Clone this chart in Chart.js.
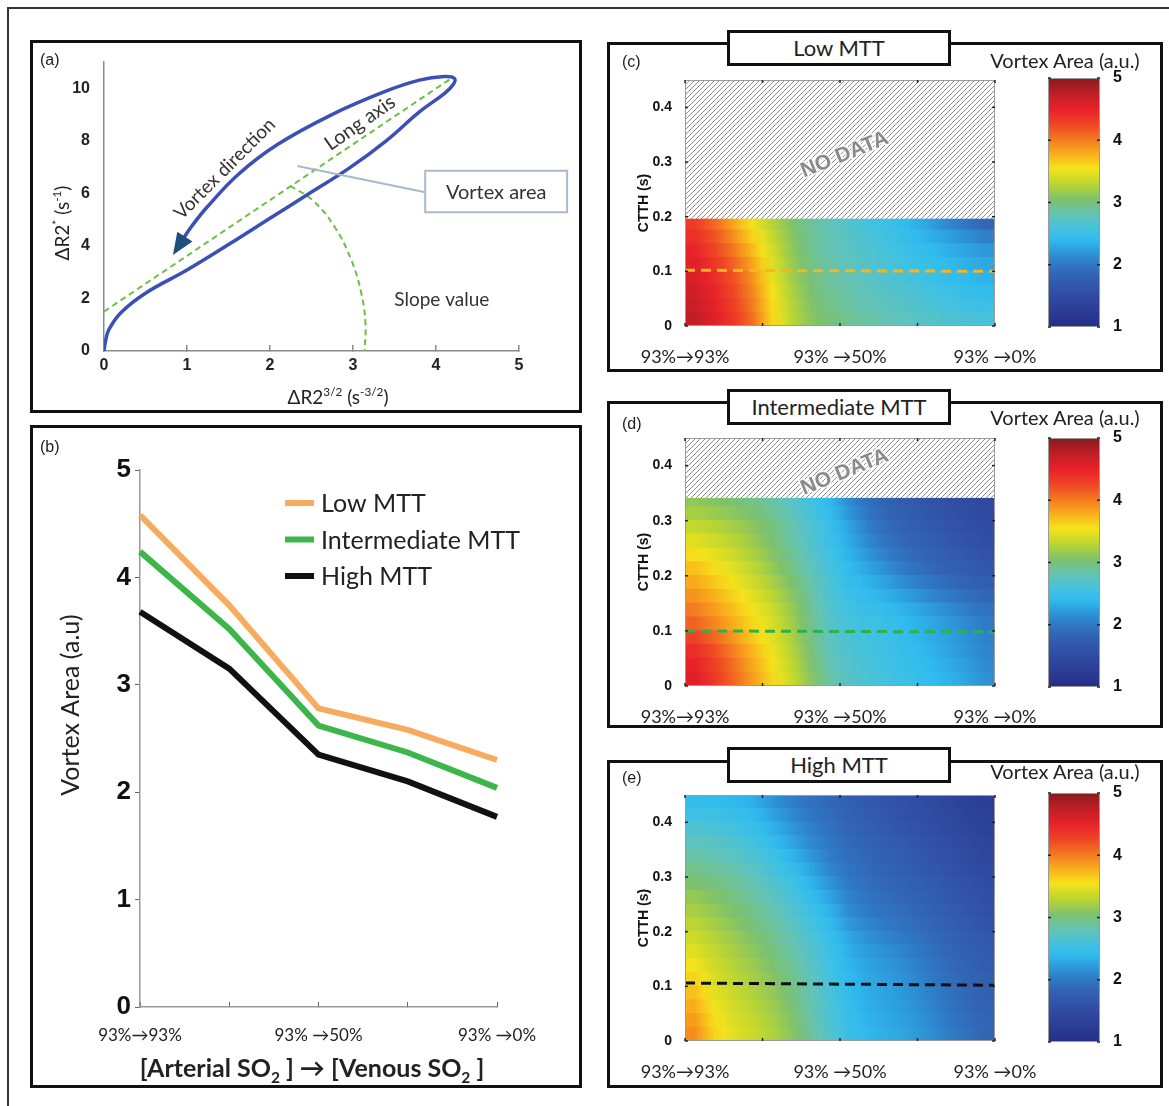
<!DOCTYPE html>
<html>
<head>
<meta charset="utf-8">
<script src="https://cdn.jsdelivr.net/npm/chart.js@4.4.1/dist/chart.umd.min.js"></script>
<style>
body{margin:0;background:#fff;width:1169px;height:1106px;position:relative;overflow:hidden;font-family:Lato,"Open Sans",sans-serif;color:#222}
.box{position:absolute;border:3px solid #111;box-sizing:border-box;background:#fff}
.ttl{position:absolute;left:727px;width:224px;height:36px;border:3px solid #111;box-sizing:border-box;background:#fff;font-size:22px;text-align:center;line-height:29px}
.lab{position:absolute;font:16px "Liberation Sans",Arial,sans-serif;color:#222}
.cbt{position:absolute;left:1065px;font-size:20px;white-space:nowrap;transform:translateX(-50%);color:#222}
canvas{position:absolute}
</style>
</head>
<body>
<div style="position:absolute;left:7px;top:7px;width:1300px;height:1300px;border-left:2px solid #333;border-top:2px solid #333"></div>

<div class="box" style="left:30px;top:40px;width:552px;height:373px"></div>
<canvas id="ca" width="546" height="367" style="left:33px;top:43px"></canvas>
<div class="lab" style="left:40px;top:51px">(a)</div>

<div class="box" style="left:30px;top:425px;width:552px;height:663px"></div>
<canvas id="cb" width="546" height="657" style="left:33px;top:428px"></canvas>
<div class="lab" style="left:40px;top:438px">(b)</div>

<div class="box" style="left:607px;top:42px;width:556px;height:330px"></div>
<canvas id="hc" width="450" height="324" style="left:610px;top:45px"></canvas>
<canvas id="kc" width="150" height="324" style="left:1010px;top:45px"></canvas>
<div class="ttl" style="top:30px">Low MTT</div>
<div class="lab" style="left:622px;top:53px">(c)</div>
<div class="cbt" style="top:48px">Vortex Area (a.u.)</div>

<div class="box" style="left:607px;top:401px;width:556px;height:327px"></div>
<canvas id="hd" width="450" height="321" style="left:610px;top:404px"></canvas>
<canvas id="kd" width="150" height="321" style="left:1010px;top:404px"></canvas>
<div class="ttl" style="top:389px">Intermediate MTT</div>
<div class="lab" style="left:622px;top:415px">(d)</div>
<div class="cbt" style="top:405px">Vortex Area (a.u.)</div>

<div class="box" style="left:607px;top:760px;width:556px;height:328px"></div>
<canvas id="he" width="450" height="322" style="left:610px;top:763px"></canvas>
<canvas id="ke" width="150" height="322" style="left:1010px;top:763px"></canvas>
<div class="ttl" style="top:747px">High MTT</div>
<div class="lab" style="left:622px;top:769px">(e)</div>
<div class="cbt" style="top:759px">Vortex Area (a.u.)</div>

<script>
// ---- panel (b): vortex area vs SO2 ----
const soLabels = ['93%→93%', '', '93% →50%', '', '93% →0%'];
const lowMTT = [4.58, 3.74, 2.78, 2.58, 2.30];
const intMTT = [4.24, 3.52, 2.62, 2.37, 2.04];
const highMTT = [3.68, 3.15, 2.35, 2.10, 1.77];

// ---- panel (a): hysteresis loop ----
const loopX = [0, 0.02, 0.06, 0.2, 0.5, 1.0, 1.5, 2.0, 2.5, 2.95, 3.4, 3.8, 4.1, 4.21, 4.22, 4.1, 3.8, 3.38, 2.74, 2.09, 1.62, 1.24, 1.05, 0.95];
const loopY = [0, 0.4, 0.82, 1.45, 2.2, 3.08, 4.05, 5.05, 6.05, 6.95, 8.0, 9.1, 9.8, 10.15, 10.38, 10.45, 10.31, 9.87, 8.99, 7.86, 6.73, 5.47, 4.72, 4.25];
const arrowTip = [0.83, 3.65];
const longAxisX = [0, 4.17];
const longAxisY = [1.5, 10.35];
const slopeArcX = [2.24, 2.52, 2.78, 2.98, 3.1, 3.15, 3.14];
const slopeArcY = [6.29, 5.72, 4.72, 3.46, 2.2, 1.07, 0];

// ---- panels (c)-(e): vortex area maps (columns on the SO2 axis, rows on CTTH) ----
const gridCols = [0.125, 0.375, 0.625, 0.875, 1.125, 1.375, 1.625, 1.875, 2.125, 2.375, 2.625, 2.875, 3.125, 3.375, 3.625, 3.875];

const ctthEdgesC = [0, 0.025, 0.05, 0.075, 0.1, 0.125, 0.15, 0.175, 0.195];
const areaC = [
  [4.75,4.55,4.35,4.05,3.6,3.3,3.1,3.0,2.92,2.85,2.8,2.75,2.7,2.66,2.62,2.6],
  [4.7,4.52,4.3,4.0,3.58,3.28,3.07,2.95,2.88,2.8,2.74,2.7,2.64,2.58,2.53,2.5],
  [4.65,4.48,4.25,3.95,3.55,3.25,3.03,2.92,2.84,2.76,2.7,2.64,2.58,2.52,2.46,2.42],
  [4.6,4.42,4.2,3.9,3.5,3.2,3.0,2.88,2.8,2.72,2.66,2.6,2.53,2.46,2.4,2.35],
  [4.55,4.36,4.12,3.82,3.45,3.17,2.97,2.85,2.77,2.69,2.62,2.55,2.48,2.4,2.34,2.28],
  [4.48,4.28,4.02,3.72,3.4,3.13,2.94,2.82,2.74,2.66,2.58,2.5,2.42,2.34,2.27,2.2],
  [4.4,4.2,3.92,3.62,3.34,3.1,2.92,2.8,2.71,2.62,2.54,2.45,2.35,2.25,2.15,2.05],
  [4.32,4.1,3.82,3.52,3.28,3.06,2.9,2.78,2.68,2.58,2.5,2.4,2.28,2.12,1.98,1.85]
];

const ctthEdgesD = [0, 0.025, 0.05, 0.075, 0.1, 0.125, 0.15, 0.175, 0.2, 0.225, 0.25, 0.275, 0.3, 0.325, 0.34];
const areaD = [
  [4.55,4.35,4.1,3.85,3.6,3.36,3.1,2.85,2.7,2.63,2.57,2.5,2.43,2.36,2.27,2.15],
  [4.5,4.3,4.06,3.8,3.56,3.32,3.06,2.81,2.67,2.6,2.54,2.47,2.4,2.32,2.23,2.12],
  [4.42,4.22,3.98,3.74,3.52,3.28,3.02,2.77,2.64,2.58,2.52,2.44,2.37,2.28,2.19,2.09],
  [4.28,4.1,3.88,3.66,3.47,3.24,2.98,2.74,2.61,2.56,2.5,2.42,2.34,2.26,2.16,2.06],
  [4.12,3.96,3.78,3.6,3.43,3.2,2.95,2.7,2.58,2.53,2.47,2.39,2.31,2.22,2.12,2.02],
  [4.0,3.86,3.7,3.53,3.37,3.16,2.92,2.68,2.54,2.48,2.41,2.33,2.24,2.14,2.04,1.95],
  [3.9,3.77,3.62,3.46,3.3,3.11,2.88,2.65,2.5,2.42,2.33,2.23,2.12,2.02,1.93,1.85],
  [3.8,3.67,3.53,3.38,3.22,3.05,2.84,2.62,2.45,2.35,2.24,2.11,2.0,1.9,1.82,1.74],
  [3.7,3.58,3.45,3.31,3.15,2.98,2.78,2.58,2.4,2.27,2.13,1.99,1.89,1.8,1.73,1.66],
  [3.58,3.48,3.37,3.24,3.09,2.92,2.73,2.54,2.35,2.18,2.03,1.91,1.82,1.74,1.67,1.6],
  [3.46,3.38,3.29,3.17,3.03,2.87,2.69,2.5,2.3,2.1,1.95,1.84,1.76,1.68,1.61,1.55],
  [3.34,3.28,3.21,3.11,2.99,2.84,2.66,2.48,2.26,2.03,1.89,1.79,1.71,1.63,1.57,1.51],
  [3.22,3.17,3.11,3.03,2.92,2.78,2.6,2.43,2.18,1.97,1.84,1.74,1.66,1.59,1.53,1.48],
  [3.12,3.08,3.03,2.96,2.86,2.72,2.55,2.38,2.12,1.92,1.8,1.71,1.63,1.56,1.5,1.46]
];

const ctthEdgesE = [0, 0.025, 0.05, 0.075, 0.1, 0.125, 0.15, 0.175, 0.2, 0.225, 0.25, 0.275, 0.3, 0.325, 0.35, 0.375, 0.4, 0.425, 0.45];
const areaE = [
  [3.92,3.62,3.46,3.36,3.25,3.1,2.9,2.68,2.48,2.38,2.32,2.26,2.16,2.04,1.94,1.85],
  [3.86,3.58,3.43,3.33,3.22,3.07,2.87,2.65,2.46,2.35,2.29,2.23,2.13,2.01,1.91,1.83],
  [3.78,3.53,3.39,3.29,3.18,3.03,2.83,2.62,2.44,2.33,2.27,2.2,2.1,1.98,1.88,1.8],
  [3.7,3.48,3.35,3.25,3.14,2.99,2.8,2.6,2.42,2.31,2.25,2.17,2.07,1.96,1.86,1.78],
  [3.62,3.43,3.31,3.21,3.1,2.95,2.77,2.57,2.4,2.29,2.23,2.14,2.04,1.93,1.84,1.76],
  [3.54,3.38,3.27,3.17,3.05,2.91,2.73,2.54,2.37,2.26,2.19,2.1,2.0,1.9,1.81,1.73],
  [3.46,3.33,3.22,3.12,3.0,2.86,2.69,2.51,2.33,2.21,2.14,2.05,1.96,1.86,1.78,1.7],
  [3.38,3.27,3.17,3.07,2.95,2.81,2.64,2.47,2.28,2.15,2.07,1.99,1.91,1.82,1.74,1.67],
  [3.3,3.21,3.11,3.01,2.89,2.75,2.58,2.42,2.2,2.08,2.0,1.93,1.86,1.78,1.7,1.63],
  [3.22,3.14,3.05,2.95,2.83,2.68,2.52,2.35,2.12,2.01,1.94,1.88,1.81,1.74,1.66,1.59],
  [3.14,3.07,2.98,2.88,2.76,2.61,2.45,2.26,2.05,1.96,1.89,1.83,1.76,1.69,1.62,1.55],
  [3.05,2.99,2.91,2.81,2.69,2.54,2.37,2.17,2.0,1.92,1.85,1.79,1.72,1.65,1.58,1.51],
  [2.96,2.9,2.83,2.74,2.61,2.46,2.28,2.09,1.96,1.88,1.81,1.75,1.68,1.61,1.54,1.47],
  [2.86,2.81,2.75,2.66,2.53,2.37,2.19,2.03,1.92,1.84,1.77,1.71,1.64,1.57,1.5,1.43],
  [2.76,2.72,2.66,2.57,2.44,2.28,2.11,1.98,1.88,1.8,1.73,1.67,1.6,1.53,1.46,1.39],
  [2.65,2.62,2.57,2.48,2.35,2.2,2.05,1.94,1.84,1.76,1.69,1.63,1.56,1.49,1.42,1.35],
  [2.54,2.52,2.47,2.4,2.27,2.12,1.99,1.9,1.8,1.72,1.65,1.59,1.52,1.45,1.38,1.31],
  [2.44,2.42,2.39,2.34,2.18,2.05,1.95,1.86,1.77,1.69,1.62,1.56,1.49,1.42,1.35,1.27]
];

// dashed CTTH reference lines (value at SO2 positions 0 and 4)
const dashX = [0, 4];
const dashC = [0.102, 0.100];
const dashD = [0.100, 0.098];
const dashE = [0.106, 0.102];

// colour scale of the maps (value -> colour)
const cmapVals = [1.0, 1.3, 1.6, 1.85, 2.0, 2.2, 2.4, 2.55, 2.8, 3.05, 3.3, 3.55, 3.8, 4.0, 4.25, 4.5, 4.75, 5.0];
const cmapColors = ['#262e86','#2c3f96','#3152a7','#3266b5','#2f78c3','#2d98da','#30bbee','#40c1e2','#63c3b6','#7cc16d','#bcd630','#f6e31a','#f8a91c','#f47c20','#ee4624','#e8212a','#c01e26','#861b1e'];
const cbTicks = [1, 2, 3, 4, 5];

Chart.defaults.font.family = '"Liberation Sans", Arial, sans-serif';
Chart.defaults.color = '#222';
Chart.defaults.animation = false;
const LATO = 'Lato, "Open Sans", "DejaVu Sans", sans-serif';

function hexRgb(h) { return [1, 3, 5].map(i => parseInt(h.substr(i, 2), 16)); }
function colorFor(v) {
  const n = cmapVals.length;
  v = Math.max(cmapVals[0], Math.min(cmapVals[n - 1], v));
  let i = 0;
  while (i < n - 2 && v > cmapVals[i + 1]) i++;
  const t = (v - cmapVals[i]) / (cmapVals[i + 1] - cmapVals[i]);
  const a = hexRgb(cmapColors[i]), b = hexRgb(cmapColors[i + 1]);
  const c = a.map((x, k) => Math.round(x + (b[k] - x) * t));
  return 'rgb(' + c.join(',') + ')';
}

// text with super/subscripts, centred on (x, y)
function richText(ctx, parts, x, y, size, o) {
  o = o || {};
  const w8 = o.bold ? 'bold ' : '';
  const fam = o.family || LATO;
  ctx.save();
  ctx.translate(x, y);
  if (o.rot) ctx.rotate(o.rot);
  let total = 0;
  const segs = parts.map(([t, m]) => {
    const s = m ? size * 0.62 : size;
    ctx.font = w8 + s + 'px ' + fam;
    const mw = ctx.measureText(t).width;
    total += mw;
    return { t, m, s, mw };
  });
  let cx = -total / 2;
  ctx.textAlign = 'left';
  ctx.textBaseline = 'alphabetic';
  ctx.fillStyle = o.color || '#222';
  segs.forEach(sg => {
    ctx.font = w8 + sg.s + 'px ' + fam;
    const dy = sg.m === 1 ? -size * 0.38 : sg.m === 2 ? size * 0.25 : 0;
    ctx.fillText(sg.t, cx, size * 0.35 + dy);
    cx += sg.mw;
  });
  ctx.restore();
}

function seg(ctx, x1, y1, x2, y2) { ctx.beginPath(); ctx.moveTo(x1, y1); ctx.lineTo(x2, y2); ctx.stroke(); }
function pts(xs, ys) { return xs.map((x, i) => ({ x: x, y: ys[i] })); }

// ---------------- panel (a) ----------------
const annotA = {
  id: 'annotA',
  afterDatasetsDraw(chart) {
    const { ctx } = chart;
    const xs = chart.scales.x, ys = chart.scales.y;
    const P = (x, y) => [xs.getPixelForValue(x), ys.getPixelForValue(y)];
    ctx.save();
    // arrow head at the end of the loop
    const n = loopX.length - 1;
    const [bx, by] = P(loopX[n - 1], loopY[n - 1]);
    const [tx, ty] = P(arrowTip[0], arrowTip[1]);
    let dx = tx - bx, dy = ty - by;
    const L = Math.hypot(dx, dy); dx /= L; dy /= L;
    const cx = tx - dx * 22, cy = ty - dy * 22;
    ctx.fillStyle = '#1f4f7c';
    ctx.beginPath();
    ctx.moveTo(tx, ty);
    ctx.lineTo(cx - dy * 9, cy + dx * 9);
    ctx.lineTo(cx + dy * 9, cy - dx * 9);
    ctx.closePath(); ctx.fill();
    // pointer + "Vortex area" box
    ctx.strokeStyle = '#a7b9cf'; ctx.lineWidth = 2;
    const [p1x, p1y] = P(2.33, 7.04), [p2x, p2y] = P(3.87, 6.04);
    seg(ctx, p1x, p1y, p2x, p2y);
    const [b1x, b1y] = P(3.87, 6.86), [b2x, b2y] = P(5.58, 5.28);
    ctx.fillStyle = '#fff';
    ctx.fillRect(b1x, b1y, b2x - b1x, b2y - b1y);
    ctx.strokeRect(b1x, b1y, b2x - b1x, b2y - b1y);
    richText(ctx, [['Vortex area', 0]], (b1x + b2x) / 2, (b1y + b2y) / 2, 20, { color: '#333' });
    // labels on the plot
    let [lx, ly] = P(1.45, 6.95);
    richText(ctx, [['Vortex direction', 0]], lx, ly, 19, { rot: -45 * Math.PI / 180, color: '#333' });
    [lx, ly] = P(3.08, 8.7);
    richText(ctx, [['Long axis', 0]], lx, ly, 20, { rot: -35 * Math.PI / 180, color: '#333' });
    [lx, ly] = P(4.07, 1.95);
    richText(ctx, [['Slope value', 0]], lx, ly, 19, { color: '#333' });
    ctx.restore();
  },
  afterDraw(chart) {
    const { ctx, chartArea: a } = chart;
    richText(ctx, [['ΔR2', 0], ['3/2', 1], [' (s', 0], ['-3/2', 1], [')', 0]], 305, a.bottom + 46, 19);
    richText(ctx, [['ΔR2', 0], ['*', 1], [' (s', 0], ['-1', 1], [')', 0]], 29, 180, 19, { rot: -Math.PI / 2 });
  }
};

new Chart(document.getElementById('ca'), {
  type: 'scatter',
  data: {
    datasets: [
      { data: pts(loopX, loopY), showLine: true, borderColor: '#3a4fb8', borderWidth: 3.5, pointRadius: 0, tension: 0.4, order: 0 },
      { data: pts(longAxisX, longAxisY), showLine: true, borderColor: '#6cbf45', borderWidth: 2, borderDash: [6, 4], pointRadius: 0, order: 1 },
      { data: pts(slopeArcX, slopeArcY), showLine: true, borderColor: '#6cbf45', borderWidth: 2, borderDash: [6, 4], pointRadius: 0, tension: 0.4, order: 1 }
    ]
  },
  options: {
    responsive: false,
    layout: { autoPadding: false, padding: { left: 0, top: 19, right: 60, bottom: 0 } },
    plugins: { legend: { display: false }, tooltip: { enabled: false } },
    scales: {
      x: {
        type: 'linear', min: 0, max: 5,
        afterFit: s => { s.height = 59; },
        border: { display: true, color: '#8a8a8a', width: 1.5 },
        grid: { display: true, drawOnChartArea: false, tickLength: -6, color: '#8a8a8a', lineWidth: 1.5 },
        ticks: { stepSize: 1, padding: 11, font: { size: 16, weight: 'bold' }, color: '#222' }
      },
      y: {
        min: 0, max: 11,
        afterFit: s => { s.width = 71; },
        border: { display: true, color: '#8a8a8a', width: 1.5 },
        grid: { display: false },
        ticks: { stepSize: 2, includeBounds: false, padding: 6, font: { size: 16, weight: 'bold' }, color: '#222' }
      }
    }
  },
  plugins: [annotA]
});

// ---------------- panel (b) ----------------
const legendB = {
  id: 'legendB',
  afterDraw(chart) {
    const { ctx, chartArea: a } = chart;
    ctx.save();
    chart.data.datasets.forEach((d, i) => {
      const y = a.top + 33 + i * 36.5;
      ctx.strokeStyle = d.borderColor; ctx.lineWidth = 6;
      seg(ctx, a.left + 145, y, a.left + 174, y);
      ctx.fillStyle = '#222'; ctx.font = '25px ' + LATO;
      ctx.textBaseline = 'middle'; ctx.textAlign = 'left';
      ctx.fillText(d.label, a.left + 181, y + 1);
    });
    ctx.restore();
    richText(ctx, [['[Arterial SO', 0], ['2', 2], [' ] → [Venous SO', 0], ['2', 2], [' ]', 0]], 279, a.bottom + 61, 25, { bold: true });
    richText(ctx, [['Vortex Area (a.u)', 0]], 37, 277, 25, { rot: -Math.PI / 2 });
  }
};

new Chart(document.getElementById('cb'), {
  type: 'line',
  data: {
    labels: soLabels,
    datasets: [
      { label: 'Low MTT', data: lowMTT, borderColor: '#f7ab5e', borderWidth: 6, pointRadius: 0, tension: 0 },
      { label: 'Intermediate MTT', data: intMTT, borderColor: '#3cb64b', borderWidth: 6, pointRadius: 0, tension: 0 },
      { label: 'High MTT', data: highMTT, borderColor: '#111', borderWidth: 6, pointRadius: 0, tension: 0 }
    ]
  },
  options: {
    responsive: false,
    layout: { autoPadding: false, padding: { left: 0, top: 42, right: 82, bottom: 0 } },
    plugins: { legend: { display: false }, tooltip: { enabled: false } },
    scales: {
      x: {
        offset: false,
        afterFit: s => { s.height = 78; },
        border: { display: true, color: '#999', width: 1.5 },
        grid: { display: true, drawOnChartArea: false, tickLength: -5, color: '#666' },
        ticks: { autoSkip: false, maxRotation: 0, minRotation: 0, padding: 23, font: { size: 17, family: LATO }, color: '#222' }
      },
      y: {
        min: 0, max: 5,
        afterFit: s => { s.width = 107; },
        border: { display: true, color: '#999', width: 1.5 },
        grid: { display: true, drawOnChartArea: false, tickLength: 5, color: '#666' },
        ticks: { stepSize: 1, padding: 4, font: { size: 26, weight: 'bold' }, color: '#111' }
      }
    }
  },
  plugins: [legendB]
});

// ---------------- panels (c)-(e) ----------------
function makeHatch() {
  const c = document.createElement('canvas');
  c.width = 5; c.height = 5;
  const g = c.getContext('2d');
  g.fillStyle = '#fff'; g.fillRect(0, 0, 5, 5);
  g.strokeStyle = '#8c8c8c'; g.lineWidth = 1;
  g.beginPath();
  g.moveTo(0, 5); g.lineTo(5, 0);
  g.moveTo(-1, 1); g.lineTo(1, -1);
  g.moveTo(4, 6); g.lineTo(6, 4);
  g.stroke();
  return g.createPattern(c, 'repeat');
}
const hatch = makeHatch();

const frame = {
  id: 'frame',
  afterDatasetsDraw(chart, args, o) {
    const { ctx, chartArea: a } = chart;
    ctx.save();
    ctx.strokeStyle = '#9a9a9a'; ctx.lineWidth = 1;
    ctx.strokeRect(a.left + 0.5, a.top + 0.5, a.right - a.left - 1, a.bottom - a.top - 1);
    ctx.strokeStyle = '#222'; ctx.lineWidth = 1.5;
    (o.xt || []).forEach(v => {
      const px = chart.scales.x.getPixelForValue(v);
      seg(ctx, px, a.bottom, px, a.bottom - 3);
      seg(ctx, px, a.top, px, a.top + 3);
    });
    (o.yt || []).forEach(v => {
      const py = chart.scales.y.getPixelForValue(v);
      seg(ctx, a.left, py, a.left + 3, py);
      seg(ctx, a.right, py, a.right - 3, py);
    });
    if (o.noData) {
      const px = chart.scales.x.getPixelForValue(o.noData[0]);
      const py = chart.scales.y.getPixelForValue(o.noData[1]);
      ctx.translate(px, py); ctx.rotate(-22 * Math.PI / 180);
      ctx.font = 'bold 21px "Liberation Sans", Arial, sans-serif';
      ctx.textAlign = 'center'; ctx.textBaseline = 'middle';
      ctx.lineWidth = 3; ctx.strokeStyle = 'rgba(255,255,255,0.85)';
      ctx.strokeText('NO DATA', 0, 0);
      ctx.fillStyle = '#8a8a8a';
      ctx.fillText('NO DATA', 0, 0);
    }
    ctx.restore();
  },
  afterDraw(chart, args, o) {
    const a = chart.chartArea;
    richText(chart.ctx, [['CTTH (s)', 0]], 33, (a.top + a.bottom) / 2, 14, { bold: true, rot: -Math.PI / 2, family: '"Liberation Sans", Arial, sans-serif', color: '#111' });
  }
};

// cell colour, shaded across the cell towards its neighbours
function cellFill(row) {
  return c => {
    const ch = c.chart, i = c.dataIndex, sc = ch.scales.xc;
    if (!sc || !ch.chartArea || isNaN(sc.getPixelForValue(0))) return colorFor(row[i]);
    const n = row.length;
    const x0 = sc.getPixelForValue(i - 1), x1 = sc.getPixelForValue(i + 1);
    const g = ch.ctx.createLinearGradient(x0, 0, x1, 0);
    g.addColorStop(0, colorFor((row[Math.max(0, i - 1)] + row[i]) / 2));
    g.addColorStop(0.25, colorFor((row[Math.max(0, i - 1)] + row[i]) / 2));
    g.addColorStop(0.5, colorFor(row[i]));
    g.addColorStop(0.75, colorFor((row[Math.min(n - 1, i + 1)] + row[i]) / 2));
    g.addColorStop(1, colorFor((row[Math.min(n - 1, i + 1)] + row[i]) / 2));
    return g;
  };
}

function makeHeat(id, area, edges, dashY, dashColor, noData, top, bottom) {
  const datasets = area.map((row, r) => ({
    type: 'bar', xAxisID: 'xc', yAxisID: 'y', grouped: false,
    data: gridCols.map(() => [edges[r], edges[r + 1]]),
    backgroundColor: cellFill(row),
    borderWidth: 0, inflateAmount: 0.7, barPercentage: 1, categoryPercentage: 1, order: 2
  }));
  const last = edges[edges.length - 1];
  if (last < 0.45) {
    datasets.push({
      type: 'bar', xAxisID: 'xc', yAxisID: 'y', grouped: false,
      data: gridCols.map(() => [last, 0.45]),
      backgroundColor: hatch, borderWidth: 0, inflateAmount: 0.7,
      barPercentage: 1, categoryPercentage: 1, order: 2
    });
  }
  datasets.push({
    type: 'line', xAxisID: 'x', yAxisID: 'y',
    data: pts(dashX, dashY), borderColor: dashColor, borderWidth: 3,
    borderDash: [10, 6], pointRadius: 0, order: -1
  });
  new Chart(document.getElementById(id), {
    type: 'bar',
    data: { labels: gridCols.map(String), datasets: datasets },
    options: {
      responsive: false,
      layout: { autoPadding: false, padding: { left: 0, top: top, right: 65, bottom: 0 } },
      plugins: {
        legend: { display: false }, tooltip: { enabled: false },
        frame: { xt: [0, 1, 2, 3, 4], yt: [0, 0.1, 0.2, 0.3, 0.4], noData: noData }
      },
      scales: {
        xc: { type: 'category', display: false, offset: true, grid: { offset: true } },
        x: {
          type: 'linear', position: 'bottom', min: 0, max: 4, offset: false,
          afterFit: s => { s.height = bottom; s.paddingLeft = 0; s.paddingRight = 0; },
          border: { display: false }, grid: { display: false, offset: false },
          ticks: {
            stepSize: 1, autoSkip: false, maxRotation: 0, padding: 12,
            font: { size: 18, family: LATO }, color: '#222',
            callback: v => soLabels[v] || ''
          }
        },
        y: {
          min: 0, max: 0.45,
          afterFit: s => { s.width = 75; },
          border: { display: false }, grid: { display: false },
          ticks: {
            stepSize: 0.1, includeBounds: false, padding: 5,
            font: { size: 14, weight: 'bold' }, color: '#111',
            callback: v => (v === 0 ? '0' : v.toFixed(1))
          }
        }
      }
    },
    plugins: [frame]
  });
}

function makeColorbar(id, top, bottom) {
  new Chart(document.getElementById(id), {
    type: 'bar',
    data: {
      labels: [''],
      datasets: [{
        data: [[cbTicks[0], cbTicks[cbTicks.length - 1]]],
        barPercentage: 1, categoryPercentage: 1, borderWidth: 0,
        backgroundColor: c => {
          const ch = c.chart;
          if (!ch.chartArea) return '#888';
          const y = ch.scales.y;
          const g = ch.ctx.createLinearGradient(0, y.getPixelForValue(1), 0, y.getPixelForValue(5));
          cmapVals.forEach((v, i) => g.addColorStop((v - 1) / 4, cmapColors[i]));
          return g;
        }
      }]
    },
    options: {
      responsive: false,
      layout: { autoPadding: false, padding: { left: 38, top: top, right: 0, bottom: bottom } },
      plugins: { legend: { display: false }, tooltip: { enabled: false }, frame: { yt: cbTicks } },
      scales: {
        x: { display: false, offset: true },
        y: {
          position: 'right', min: 1, max: 5,
          afterFit: s => { s.width = 60; },
          border: { display: false }, grid: { display: false },
          ticks: { stepSize: 1, padding: 5, font: { size: 16, weight: 'bold' }, color: '#111' }
        }
      }
    },
    plugins: [{ id: 'frame', afterDatasetsDraw: frame.afterDatasetsDraw }]
  });
}

makeHeat('hc', areaC, ctthEdgesC, dashC, '#f9b51c', [2.06, 0.313], 35, 43);
makeHeat('hd', areaD, ctthEdgesD, dashD, '#2bb34a', [2.06, 0.388], 34, 39);
makeHeat('he', areaE, ctthEdgesE, dashE, '#111', null, 32, 44);
makeColorbar('kc', 33, 42);
makeColorbar('kd', 34, 38);
makeColorbar('ke', 30, 43);
</script>
</body>
</html>
